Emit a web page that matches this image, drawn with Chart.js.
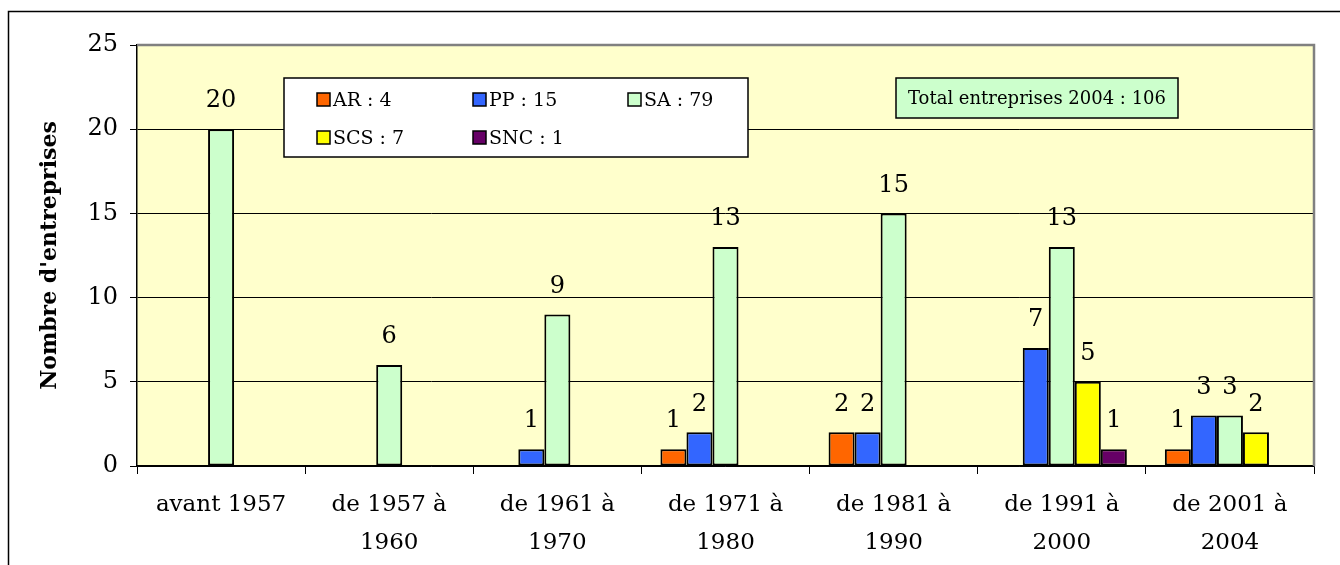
<!DOCTYPE html>
<html>
<head>
<meta charset="utf-8">
<script src="https://cdn.jsdelivr.net/npm/chart.js@4.4.1/dist/chart.umd.min.js"></script>
<style>
  html, body { margin: 0; padding: 0; background: #fff; }
  #wrap { width: 1340px; height: 565px; position: relative; }
</style>
</head>
<body>
<div id="wrap"><canvas id="chart" width="1340" height="565"></canvas></div>
<script>
// données
const categories = [
    'avant 1957',
    ['de 1957 à', '1960'],
    ['de 1961 à', '1970'],
    ['de 1971 à', '1980'],
    ['de 1981 à', '1990'],
    ['de 1991 à', '2000'],
    ['de 2001 à', '2004']
];
const seriesAR  = [null, null, null, 1, 2, null, 1];
const seriesPP  = [null, null, 1, 2, 2, 7, 3];
const seriesSA  = [20, 6, 9, 13, 15, 13, 3];
const seriesSCS = [null, null, null, null, null, 5, 2];
const seriesSNC = [null, null, null, null, null, 1, null];
const yTicks = [0, 5, 10, 15, 20, 25];

const FONT = '"DejaVu Serif", serif';

const somme = arr => arr.reduce((a, b) => a + (b || 0), 0);

function serie(nom, data, couleur) {
    return {
        label: nom + ' : ' + somme(data),
        data: data,
        backgroundColor: couleur,
        borderColor: '#000',
        borderWidth: 2,
        borderSkipped: false
    };
}

const datasets = [
    serie('AR', seriesAR, '#FF6600'),
    serie('PP', seriesPP, '#3366FF'),
    serie('SA', seriesSA, '#CCFFCC'),
    serie('SCS', seriesSCS, '#FFFF00'),
    serie('SNC', seriesSNC, '#660066')
];
const total = datasets.reduce((t, d) => t + somme(d.data), 0);

// fond du graphique, cadre, légende et étiquettes
const decor = {
    id: 'decor',
    beforeDraw(chart) {
        const { ctx, chartArea: a } = chart;
        ctx.save();
        ctx.fillStyle = '#FFFFCC';
        ctx.fillRect(a.left, a.top, a.right - a.left, a.bottom - a.top);
        // bordure extérieure
        ctx.strokeStyle = '#000';
        ctx.lineWidth = 1.5;
        ctx.beginPath();
        ctx.moveTo(8.5, 565);
        ctx.lineTo(8.5, 11.5);
        ctx.lineTo(1340, 11.5);
        ctx.stroke();
        ctx.restore();
    },
    afterDatasetsDraw(chart) {
        const { ctx, chartArea: a } = chart;
        ctx.save();
        // bordure grise de la zone de traçage
        ctx.strokeStyle = '#808080';
        ctx.lineWidth = 2.5;
        ctx.beginPath();
        ctx.moveTo(a.left, a.top);
        ctx.lineTo(a.right, a.top);
        ctx.lineTo(a.right, a.bottom);
        ctx.stroke();

        // étiquettes de valeurs
        ctx.fillStyle = '#000';
        ctx.font = '24px ' + FONT;
        ctx.textAlign = 'center';
        ctx.textBaseline = 'middle';
        chart.data.datasets.forEach((ds, i) => {
            chart.getDatasetMeta(i).data.forEach((bar, j) => {
                if (ds.data[j] == null) return;
                ctx.fillText(String(ds.data[j]), bar.x, bar.y - 28);
            });
        });

        // légende
        ctx.fillStyle = '#fff';
        ctx.fillRect(284, 78, 464, 79);
        ctx.strokeStyle = '#000';
        ctx.lineWidth = 1.5;
        ctx.strokeRect(284, 78, 464, 79);
        const colX = [317, 473, 628];
        const rowY = [100, 138];
        ctx.font = '19px ' + FONT;
        ctx.textAlign = 'left';
        chart.data.datasets.forEach((ds, i) => {
            const x = colX[i % 3];
            const y = rowY[Math.floor(i / 3)];
            ctx.fillStyle = ds.backgroundColor;
            ctx.fillRect(x, y - 7, 13, 13);
            ctx.strokeStyle = '#000';
            ctx.lineWidth = 1.5;
            ctx.strokeRect(x, y - 7, 13, 13);
            ctx.fillStyle = '#000';
            ctx.fillText(ds.label, x + 16, y + 1);
        });

        // encadré total
        ctx.fillStyle = '#CCFFCC';
        ctx.fillRect(896, 78, 282, 40);
        ctx.strokeStyle = '#000';
        ctx.lineWidth = 1.5;
        ctx.strokeRect(896, 78, 282, 40);
        ctx.fillStyle = '#000';
        ctx.font = '18px ' + FONT;
        ctx.textAlign = 'center';
        ctx.fillText('Total entreprises 2004 : ' + total, 1037, 99);
        ctx.restore();
    }
};

const ctx = document.getElementById('chart').getContext('2d');
new Chart(ctx, {
    type: 'bar',
    data: { labels: categories, datasets: datasets },
    options: {
        responsive: false,
        animation: false,
        layout: { padding: { left: 0, top: 45, right: 26, bottom: 0 } },
        datasets: {
            bar: { categoryPercentage: 0.774, barPercentage: 1 }
        },
        plugins: {
            legend: { display: false },
            tooltip: { enabled: false }
        },
        scales: {
            x: {
                offset: true,
                grid: {
                    offset: true,
                    drawOnChartArea: false,
                    drawTicks: true,
                    tickLength: 8,
                    color: '#000'
                },
                border: { color: '#000', width: 1.5 },
                ticks: {
                    color: '#000',
                    font: { family: FONT, size: 23, lineHeight: 1.65 },
                    padding: 12,
                    maxRotation: 0,
                    autoSkip: false
                },
                afterFit(scale) { scale.height = 99; }
            },
            y: {
                min: 0,
                max: 25,
                afterBuildTicks(scale) {
                    scale.ticks = yTicks.map(v => ({ value: v }));
                },
                grid: {
                    color: '#000',
                    lineWidth: 1,
                    tickLength: 7
                },
                border: { color: '#000', width: 1.5 },
                ticks: {
                    color: '#000',
                    font: { family: FONT, size: 24 },
                    padding: 12
                },
                title: {
                    display: true,
                    text: "Nombre d'entreprises",
                    color: '#000',
                    font: { family: FONT, size: 22, weight: 'bold' },
                    padding: { top: 37, bottom: 0 }
                },
                afterFit(scale) { scale.width = 137; }
            }
        }
    },
    plugins: [decor]
});
</script>
</body>
</html>
